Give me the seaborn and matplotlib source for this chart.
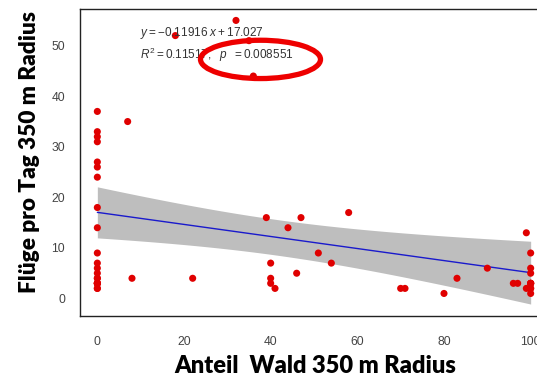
import numpy as np
import pandas as pd
import matplotlib
matplotlib.use("Agg")
import matplotlib.pyplot as plt
from matplotlib.patches import Ellipse
import seaborn as sns

# Data (overlapping duplicates included)
wald_anteil = [0, 0, 0, 0, 0, 0, 0, 0, 0, 0, 0, 0, 0, 0, 0, 0,
               0, 0, 0, 0, 0, 0,
               7, 8, 18, 22, 32, 35, 36, 39, 40, 40, 40, 41, 44, 46, 47,
               51, 54, 58, 70, 71, 80, 83, 90, 96, 97, 99, 100, 100, 100,
               100, 99, 100, 100,
               100, 100, 100, 100]
fluege_pro_tag = [37, 33, 32, 31, 27, 26, 24, 18, 14, 9, 7, 6, 5, 4, 3, 2,
                  2, 3, 3, 3, 3, 4,
                  35, 4, 52, 4, 55, 51, 44, 16, 7, 4, 3, 2, 14, 5, 16,
                  9, 7, 17, 2, 2, 1, 4, 6, 3, 3, 13, 9, 6, 5,
                  3, 2, 2, 1,
                  3, 3, 3, 2]
x_ticks = [0, 20, 40, 60, 80, 100]
y_ticks = [0, 10, 20, 30, 40, 50]
eq_text = r"$y = -0.11916\ x + 17.027$"
r2_text = r"$R^2 = 0.11517,\ \ p\ \ = 0.008551$"

df = pd.DataFrame({"wald": wald_anteil, "fluege": fluege_pro_tag})

sns.set_style("white")
plt.rcParams["font.family"] = ["DejaVu Sans"]
plt.rcParams["mathtext.fontset"] = "custom"
plt.rcParams["mathtext.rm"] = "Liberation Sans"
plt.rcParams["mathtext.it"] = "Liberation Sans:italic"
plt.rcParams["mathtext.sf"] = "Liberation Sans"

W, H = 537, 378
fig = plt.figure(figsize=(W / 100, H / 100), dpi=100)
ax = fig.add_axes([80 / W, (H - 315.7) / H, (548 - 80) / W, (315.7 - 9.3) / H])

# analytic 95% confidence band of the linear fit (as in R's predict)
x = np.asarray(wald_anteil, float)
y = np.asarray(fluege_pro_tag, float)
n = len(x)
b, a = np.polyfit(x, y, 1)
resid = y - (a + b * x)
s = np.sqrt(np.sum(resid ** 2) / (n - 2))
sxx = np.sum((x - x.mean()) ** 2)
xg = np.linspace(x.min(), x.max(), 200)
se = s * np.sqrt(1 / n + (xg - x.mean()) ** 2 / sxx)
t975 = 2.0025  # Student t quantile, df = n - 2 = 57
fit = a + b * xg
ax.fill_between(xg, fit - t975 * se, fit + t975 * se, color="#bebebe", lw=0, zorder=1)

sns.regplot(data=df, x="wald", y="fluege", ax=ax, scatter=False, ci=None,
            color="#1a1acc", line_kws={"lw": 1.0, "zorder": 2})

sns.scatterplot(data=df, x="wald", y="fluege", ax=ax, color="#e00000",
                s=26, edgecolor="none", linewidth=0, zorder=3)

ax.set_xlim(-4, 104)
ax.set_ylim(-3.4, 57.2)
ax.set_xticks(x_ticks)
ax.set_yticks(y_ticks)
ax.tick_params(axis="both", direction="out", length=6.2, width=0.8, color="#333333",
               labelsize=8.7, labelcolor="#444444")
ax.tick_params(axis="y", pad=4.6)
ax.tick_params(axis="x", pad=8.2)
for lbl in ax.get_xticklabels() + ax.get_yticklabels():
    lbl.set_family(["Liberation Sans", "DejaVu Sans"])
for sp in ax.spines.values():
    sp.set_visible(True)
    sp.set_color("#222222")
    sp.set_linewidth(1.0)

ax.set_xlabel("")
ax.set_ylabel("")
lab_font = dict(family=["Lato", "DejaVu Sans"], weight="heavy", color="black")
fig.text(315 / W, 1 - 366 / H, "Anteil  Wald 350 m Radius", ha="center", va="center",
         size=17, **lab_font)
fig.text(30 / W, 1 - 152 / H, "Flüge pro Tag 350 m Radius", ha="center", va="center",
         rotation=90, size=16.3, **lab_font)

ann = dict(size=8.5, color="#333333", ha="left", va="center")
fig.text(140 / W, 1 - 33 / H, eq_text, **ann)
fig.text(140 / W, 1 - 55 / H, r2_text, **ann)

ell = Ellipse((260.5 / W, 1 - 59.4 / H), 120 / W, 38.3 / H, transform=fig.transFigure,
              fill=False, edgecolor="#ee0000", linewidth=3.8, zorder=10)
fig.patches.append(ell)

fig.savefig("out.png", dpi=100)
